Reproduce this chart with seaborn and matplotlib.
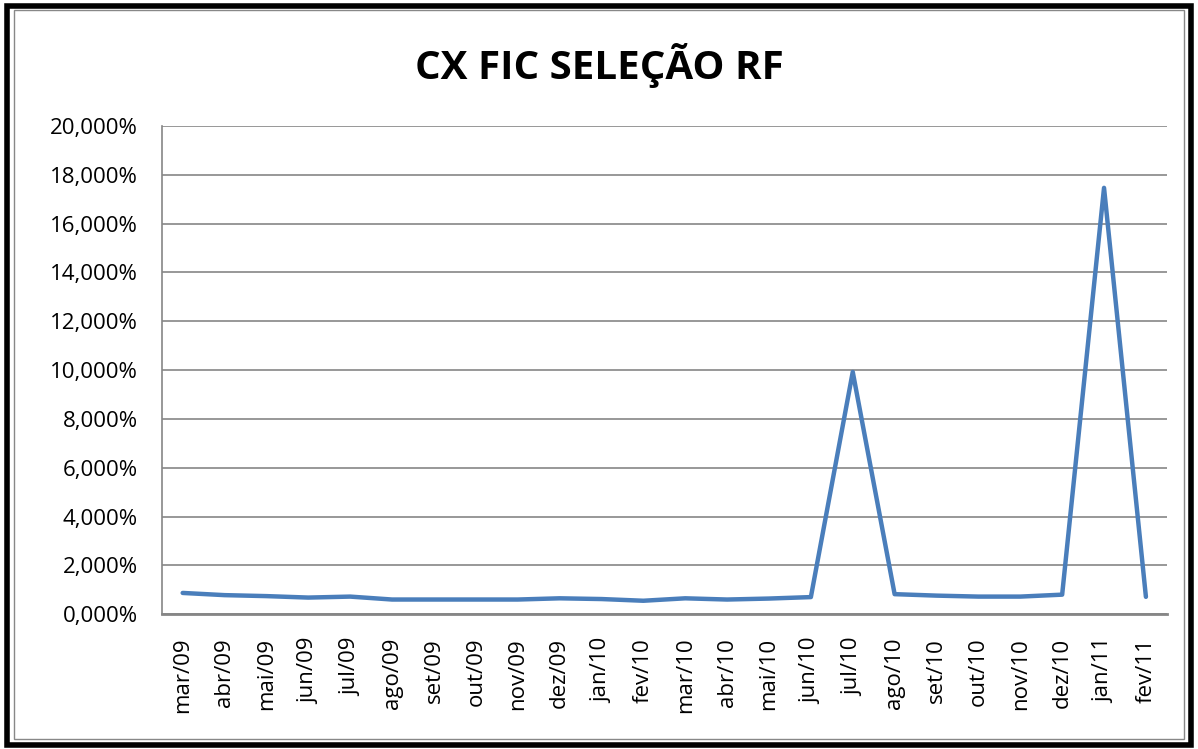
import matplotlib
matplotlib.use("Agg")
import matplotlib.pyplot as plt
import seaborn as sns
import pandas as pd
import numpy as np
from matplotlib.patches import Rectangle
from matplotlib.ticker import FuncFormatter, MultipleLocator

months = ["mar/09", "abr/09", "mai/09", "jun/09", "jul/09", "ago/09", "set/09", "out/09",
          "nov/09", "dez/09", "jan/10", "fev/10", "mar/10", "abr/10", "mai/10", "jun/10",
          "jul/10", "ago/10", "set/10", "out/10", "nov/10", "dez/10", "jan/11", "fev/11"]
values = [0.87, 0.78, 0.74, 0.68, 0.72, 0.60, 0.60, 0.60, 0.60, 0.65, 0.62, 0.55,
          0.65, 0.60, 0.64, 0.70, 9.92, 0.82, 0.76, 0.72, 0.72, 0.80, 17.46, 0.71]

df = pd.DataFrame({"pos": np.arange(len(months)), "month": months, "value": values})

sns.set_style("white")
plt.rcParams["font.family"] = ["Open Sans", "DejaVu Sans"]

fig = plt.figure(figsize=(11.98, 7.49), dpi=100)
ax = fig.add_axes([0.135, 0.180, 0.839, 0.652])

sns.lineplot(data=df, x="pos", y="value", ax=ax, color="#4a7ebb", linewidth=3.2)

ax.set_xlim(-0.5, len(months) - 0.5)
ax.set_ylim(0, 20)
ax.yaxis.set_major_locator(MultipleLocator(2))
ax.yaxis.set_major_formatter(FuncFormatter(lambda v, p: f"{v:.3f}".replace(".", ",") + "%"))
ax.grid(axis="y", color="#868686", linewidth=1.2)
ax.set_axisbelow(True)

ax.set_xticks(np.arange(len(months)))
ax.set_xticklabels(months, rotation=90, fontsize=16, color="black")
ax.set_xticks(np.arange(len(months) + 1) - 0.5, minor=True)
ax.tick_params(axis="x", which="major", length=0, pad=17)
ax.tick_params(axis="x", which="minor", length=7, color="#868686", width=1.2, direction="out")
ax.tick_params(axis="y", labelsize=16, labelcolor="black", length=7, color="#868686",
               width=1.2, direction="out", pad=10)
ax.set_xlabel("")
ax.set_ylabel("")
for s in ["top", "right"]:
    ax.spines[s].set_visible(False)
ax.spines["left"].set_color("#868686")
ax.spines["left"].set_linewidth(1.2)
ax.spines["bottom"].set_color("#868686")
ax.spines["bottom"].set_linewidth(2)

fig.text(0.5, 0.913, "CX FIC SELEÇÃO RF", ha="center", va="center",
         fontsize=29, fontweight="bold", color="black")

fig.patches.append(Rectangle((0.006, 0.006), 0.988, 0.986, transform=fig.transFigure,
                             fill=False, edgecolor="black", linewidth=4))
fig.patches.append(Rectangle((0.012, 0.013), 0.976, 0.973, transform=fig.transFigure,
                             fill=False, edgecolor="#888888", linewidth=1))

fig.savefig("out.png", dpi=100)
